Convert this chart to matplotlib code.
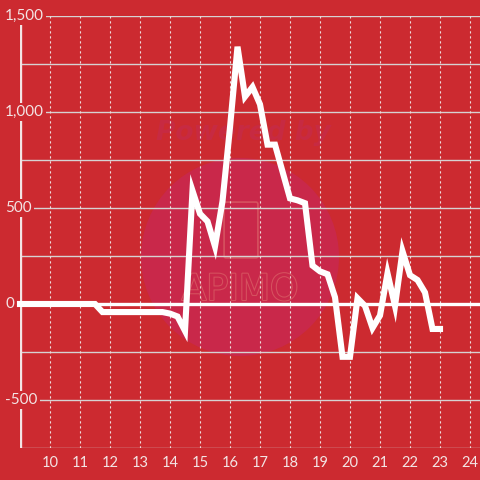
import matplotlib
matplotlib.use("Agg")
import matplotlib.pyplot as plt
from matplotlib.patches import Circle, FancyBboxPatch
from matplotlib.transforms import blended_transform_factory
import matplotlib.patheffects as pe

plt.rcParams['font.family'] = ['Lato', 'DejaVu Sans']

# quarter-hour readings
hours = [9.0, 9.25, 9.5, 9.75, 10.0, 10.25, 10.5, 10.75, 11.0, 11.25, 11.5, 11.75,
         12.0, 12.25, 12.5, 12.75, 13.0, 13.25, 13.5, 13.75, 14.0, 14.25, 14.5, 14.75,
         15.0, 15.25, 15.5, 15.75, 16.0, 16.25, 16.5, 16.75, 17.0, 17.25, 17.5, 17.75,
         18.0, 18.25, 18.5, 18.75, 19.0, 19.25, 19.5, 19.75, 20.0, 20.25, 20.5, 20.75,
         21.0, 21.25, 21.5, 21.75, 22.0, 22.25, 22.5, 22.75, 23.0]
values = [0, 0, 0, 0, 0, 0, 0, 0, 0, 0, 0, -42,
          -42, -42, -42, -42, -42, -42, -42, -42, -50, -65, -140, 590,
          470, 430, 300, 535, 920, 1340, 1080, 1130, 1040, 830, 830, 690,
          550, 540, 525, 200, 170, 155, 35, -275, -275, 30, -10, -125,
          -60, 160, -10, 275, 150, 125, 60, -130, -130]

x_ticks = list(range(10, 25))
y_grid = [-750, -500, -250, 0, 250, 500, 750, 1000, 1250, 1500]
y_labels = [-500, 0, 500, 1000, 1500]

bg = '#cc2a30'
fg = '#f3e4e4'

fig = plt.figure(figsize=(4.8, 4.8), dpi=100, facecolor=bg)

ax = fig.add_axes([20 / 480, 32 / 480, 460 / 480, 432 / 480])
ax.patch.set_alpha(0)
ax.set_xlim(9, 9 + 460 / 30)
ax.set_ylim(-750, 1500)
for s in ax.spines.values():
    s.set_visible(False)

# watermark behind the grid
ft = fig.transFigure
ax.add_patch(Circle((240 / 480, 1 - 257 / 480), 99 / 480, transform=ft,
                    facecolor='#c9284a', edgecolor='none', zorder=0.2, clip_on=False))
ax.text(243 / 480, 1 - 133 / 480, 'Powered by', transform=ft, fontsize=19, fontweight='bold',
        style='italic', color='#c72a42', ha='center', va='center', zorder=0.3, family='DejaVu Sans')
ax.text(240 / 480, 1 - 290 / 480, 'APIMO', transform=ft, fontsize=26, color='#c9284a',
        ha='center', va='center', zorder=0.3, family='DejaVu Sans',
        path_effects=[pe.withStroke(linewidth=1.5, foreground='#d6525f')])
ax.add_patch(FancyBboxPatch((226 / 480, 1 - 256 / 480), 30 / 480, 52 / 480,
                            boxstyle='round,pad=0.004', transform=ft, facecolor='none',
                            edgecolor='#d6525f', lw=1.2, zorder=0.3, clip_on=False))

for v in y_grid:
    ax.axhline(v, color='#d6d2d2', lw=1, zorder=1)
ax.axhline(0, color='white', lw=2.4, zorder=1.5)
for h in x_ticks:
    ax.axvline(h, color='#eedddd', lw=0.8, ls=(0, (2, 2.5)), zorder=1)
ax.axvline(9, color=fg, lw=2.4, zorder=1.6)

ax.plot(hours, values, color='white', lw=4.4, solid_capstyle='projecting',
        solid_joinstyle='miter', zorder=3, clip_on=False)

ax.set_xticks(x_ticks)
ax.set_xticklabels([str(h) for h in x_ticks])
ax.tick_params(axis='x', length=0, pad=6, labelsize=10.5, labelcolor=fg)
ax.set_yticks([])

trans = blended_transform_factory(ft, ax.transData)
for v in y_labels:
    ax.text(5 / 480, v, f'{v:,}', transform=trans, ha='left', va='center', fontsize=11,
            color=fg, zorder=5, clip_on=False,
            bbox=dict(boxstyle='square,pad=0.15', facecolor=bg, edgecolor='none'))

fig.savefig('out.png', dpi=100, facecolor=bg)
